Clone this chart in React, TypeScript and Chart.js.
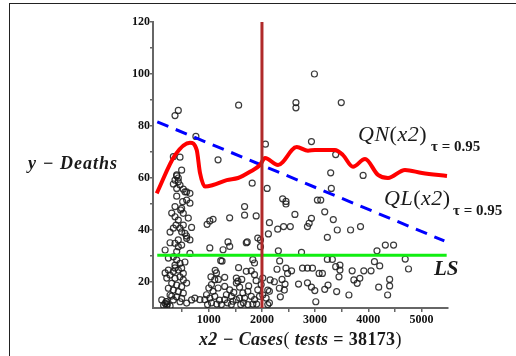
import React, { useEffect, useRef } from "react";
import { Chart, registerables } from "chart.js";

Chart.register(...registerables);

// Scatter observations (cases, deaths)
const scatterX = [
  2987, 2639, 2639, 3492, 1561, 426, 364, 757, 2065, 2931, 3387, 3293, 3903, 2097, 3305, 2389, 2452, 2452, 3043, 3106, 1174, 1816, 489, 426,
  2620, 3181, 3342, 2931, 2888, 2140, 2296, 2407, 2533, 2856, 3417, 3667, 3854, 3230, 2121, 1972, 1972, 4164, 4321, 4476, 2308, 2744, 4695, 4757,
  2333, 2283, 2452, 2482, 2557, 2763, 2856, 2950, 3075, 3137, 3230, 3324, 3387, 3467, 3467, 3449, 3697, 3916, 4052, 4116, 4215, 2153, 2233, 2377,
  2434, 2327, 2346, 2421, 2688, 2856, 2931, 2994, 3013, 3181, 3243, 3405, 3636, 3729, 3841, 3791, 4196, 4402, 4402, 4364, 2140, 2109, 2015,
  1361, 1393, 1268, 1019, 1723, 1921, 1224, 1249, 1828, 1860, 1798, 1705, 1860, 1144, 1299, 1518, 1548, 1518, 1579, 1112, 1050, 1000, 957, 1019,
  1080, 1174, 1112, 925, 976, 1299, 1331, 1393, 1424, 1299, 1237, 1424, 1641, 1673, 1734, 1798, 1860, 1921, 1953, 832, 738, 2078, 2140, 2109,
  1518, 1579, 1454, 1734, 1828, 2015, 1985, 1019, 968, 1080, 1392, 1673, 1673, 1891, 1705,
  458, 396, 364, 426, 333, 458, 396, 520, 583, 645, 508, 645, 471, 520, 364, 364, 426, 383, 333, 458, 520, 551, 489, 583, 645, 676, 271, 364,
  426, 489, 178, 396, 645, 333, 396, 458, 364, 489, 426, 333, 520, 239, 271, 364, 458, 520, 302, 396, 489, 239, 333, 426, 520, 271, 396, 489,
  333, 458, 209, 178, 150, 200, 220, 178, 333, 551, 489, 396,
  396, 583, 302, 614, 271, 583, 426, 239, 551, 364, 583, 209, 302, 583, 676, 209, 115, 271,
  1050, 1150, 1200, 1350, 1600, 1650, 1900, 1120, 1180, 1470, 1750, 1620, 1040, 1560, 1890
];
const scatterY = [
  100, 89, 87, 89, 88, 86, 84, 76, 73, 74, 69, 62, 61, 56, 56, 52, 51, 50, 51.5, 51.5, 67, 58, 63, 60,
  46, 47, 44, 44.5, 42.6, 42.8, 40.3, 41.3, 41.3, 41.3, 40, 40, 41.3, 37.2, 38.5, 36.2, 33.6, 32, 34.2, 34.2, 32, 31.4, 28.8, 25,
  28.1, 24.9, 25.3, 23.3, 24.3, 25.3, 25.3, 25.3, 23.3, 23.3, 28.7, 28.7, 25.9, 24.6, 26.5, 22, 24.3, 24.3, 24.3, 27.8, 26.2, 20.8, 20.1, 21,
  19.2, 17.6, 14.3, 16.9, 19.2, 19.7, 18, 16.7, 12.4, 17.2, 18.8, 16.3, 15, 20.8, 21.4, 19.5, 18, 21, 18.5, 15, 12, 16.9, 15,
  35.4, 33.7, 32.4, 33.1, 35.4, 36.9, 28.2, 28, 28.6, 27.3, 24.3, 24.1, 22.8, 23.5, 21.8, 21.5, 20.3, 19.6, 18, 20.9, 19, 17.7, 15.1, 13.8,
  16.4, 17.7, 14.5, 13.2, 11.3, 18.3, 15.1, 17, 14.5, 13.2, 11.3, 11.3, 15.8, 13.8, 16.4, 14.5, 13.2, 17, 14.5, 13.2, 13.8, 13.8, 16.4, 11.3,
  13.2, 13.8, 12.6, 11.3, 11.5, 21.5, 19, 43.5, 42.2, 44.1, 44.7, 49, 45.7, 45.4, 35.1,
  68, 60.8, 59.2, 58.6, 57.7, 57.3, 56, 55.7, 54.7, 54.1, 50.9, 50.3, 47.7, 46.4, 49, 45.1, 43.8, 41.9, 40.7, 40.7, 41.9, 38.7, 39.3, 36.8, 36.2, 41, 35.1, 34.9,
  33.6, 34.2, 32.3, 31.7, 31, 29.7, 28.5, 27.2, 26.5, 25.3, 24.6, 24, 23.3, 24.6, 22.7, 21.4, 22, 20.8, 19.5, 18.8, 18.2, 17.6, 16.9, 16.3, 15.7, 15, 14.3, 13.7,
  13.1, 12.4, 12.4, 11.8, 11, 12.5, 11.5, 23.5, 68.2, 54.7, 48.3, 61.2,
  53, 51.5, 46.5, 44.6, 39.2, 37.7, 36.2, 29.2, 27.7, 25.4, 19.6, 21.5, 14.6, 11.9, 13.1, 10.8, 13.1, 10.8,
  12, 11.5, 13, 12, 11.3, 12, 11.5, 24.5, 21, 16, 18.5, 21, 22, 25.5, 20.5
];

// Nonparametric quantile curve QN(x2), tau = 0.95
const qnX = [20, 364, 646, 772, 834, 928, 1079, 1337, 1549, 1775, 1963, 2057, 2302, 2654, 2866, 2998, 3374, 3525, 3713, 3939, 4183, 4371, 4691, 5011, 5481];
const qnY = [54.1, 68.8, 73.6, 70.8, 62, 56.7, 57.3, 59.2, 60, 62.4, 65, 67.7, 65, 71.9, 70.5, 70.8, 70.8, 68.8, 64.3, 67.3, 61.2, 60, 63.1, 61.9, 60.8];

// Linear quantile line QL(x2), tau = 0.95
const qlX = [30, 5431];
const qlY = [81.6, 35.8];

// Least squares line LS
const lsX = [30, 5475];
const lsY = [30.3, 30.3];

// Vertical marker
const markerX = [2000, 2000];
const markerY = [10, 120];

const xTickValues = [500, 1000, 1500, 2000, 2500, 3000, 3500, 4000, 4500, 5000];
const yTickValues = [20, 30, 40, 50, 60, 70, 80, 90, 100, 110, 120];
const xLabelStep = 1000;
const yLabelStep = 20;

const toPoints = (xs: number[], ys: number[]) => xs.map((x, i) => ({ x, y: ys[i] }));

const SERIF = '"Liberation Serif", "Times New Roman", serif';
const TXT = "#1a1a1a";

function Label(props: { left: number; baseline: number; size: number; children: any; style?: any }) {
  const { left, baseline, size, children, style } = props;
  return (
    <div
      style={{
        position: "absolute",
        left,
        top: baseline - 0.8375 * size,
        fontFamily: SERIF,
        fontSize: size,
        lineHeight: 1,
        whiteSpace: "nowrap",
        color: TXT,
        ...style,
      }}
    >
      {children}
    </div>
  );
}

export default function App() {
  const canvasRef = useRef<HTMLCanvasElement | null>(null);

  useEffect(() => {
    const canvas = canvasRef.current;
    if (!canvas) return;
    const tickFont = { family: SERIF, size: 12, weight: "bold" as const };
    const chart = new Chart(canvas, {
      type: "scatter",
      data: {
        datasets: [
          {
            label: "marker",
            data: toPoints(markerX, markerY),
            showLine: true,
            borderColor: "#b02a2a",
            borderWidth: 3,
            pointRadius: 0,
            order: 1,
          },
          {
            label: "QN",
            data: toPoints(qnX, qnY),
            showLine: true,
            borderColor: "#ff0000",
            borderWidth: 4,
            pointRadius: 0,
            cubicInterpolationMode: "monotone",
            order: 2,
          },
          {
            label: "QL",
            data: toPoints(qlX, qlY),
            showLine: true,
            borderColor: "#0000ff",
            borderWidth: 3,
            borderDash: [12, 8],
            pointRadius: 0,
            order: 3,
          },
          {
            label: "LS",
            data: toPoints(lsX, lsY),
            showLine: true,
            borderColor: "#11ee11",
            borderWidth: 3,
            pointRadius: 0,
            order: 4,
          },
          {
            label: "data",
            data: toPoints(scatterX, scatterY),
            showLine: false,
            pointRadius: 3,
            pointBorderWidth: 1.2,
            pointBorderColor: "rgba(25,25,25,0.85)",
            pointBackgroundColor: "rgba(0,0,0,0)",
            order: 5,
          },
        ],
      },
      options: {
        responsive: false,
        animation: false,
        devicePixelRatio: 1,
        layout: { padding: { top: 22, right: 68, left: 0, bottom: 0 } },
        plugins: { legend: { display: false }, tooltip: { enabled: false }, title: { display: false } },
        scales: {
          x: {
            type: "linear",
            min: -50,
            max: 5500,
            afterFit: (s: any) => {
              s.height = 48;
            },
            afterBuildTicks: (s: any) => {
              s.ticks = xTickValues.map((v) => ({ value: v }));
            },
            ticks: {
              autoSkip: false,
              maxRotation: 0,
              padding: 1,
              color: "#111",
              font: tickFont,
              callback: (v: any) => (Number(v) % xLabelStep === 0 ? String(v) : ""),
            },
            grid: { drawOnChartArea: false, tickLength: 4, color: "#666", lineWidth: 1.5 },
            border: { color: "#666", width: 2 },
          },
          y: {
            type: "linear",
            min: 10,
            max: 120,
            afterFit: (s: any) => {
              s.width = 153;
            },
            afterBuildTicks: (s: any) => {
              s.ticks = yTickValues.map((v) => ({ value: v }));
            },
            ticks: {
              autoSkip: false,
              padding: 0,
              color: "#111",
              font: tickFont,
              callback: (v: any) => (Number(v) % yLabelStep === 0 ? String(v) : ""),
            },
            grid: { drawOnChartArea: false, tickLength: 3, color: "#666", lineWidth: 1.5 },
            border: { color: "#666", width: 2 },
          },
        },
      } as any,
    });
    return () => chart.destroy();
  }, []);

  return (
    <div style={{ position: "fixed", left: 0, top: 0, width: 516, height: 356, background: "#fff", overflow: "hidden" }}>
      <div
        style={{
          position: "absolute",
          left: 9,
          top: 3,
          width: 600,
          height: 400,
          borderLeft: "1.5px solid #222",
          borderTop: "1.5px solid #222",
        }}
      />
      <canvas ref={canvasRef} width={516} height={356} style={{ position: "absolute", left: 0, top: 0, width: 516, height: 356 }} />

      <Label left={28} baseline={169} size={18} style={{ fontWeight: "bold", fontStyle: "italic", letterSpacing: 1 }}>
        y − Deaths
      </Label>

      <Label left={199} baseline={345} size={18} style={{ fontWeight: "bold", letterSpacing: 0.35 }}>
        <span style={{ fontStyle: "italic" }}>x2 − Cases</span>
        <span style={{ fontWeight: "normal" }}>(</span>
        <span style={{ fontStyle: "italic" }}> tests</span>
        <span> = 38173</span>
        <span style={{ fontWeight: "normal" }}>)</span>
      </Label>

      <Label left={358} baseline={141} size={22} style={{ letterSpacing: 0.5 }}>
        <span style={{ fontStyle: "italic" }}>QN</span>(<span style={{ fontStyle: "italic" }}>x2</span>)
      </Label>
      <Label left={431} baseline={152} size={15} style={{ fontWeight: "bold" }}>
        τ = 0.95
      </Label>

      <Label left={384} baseline={205} size={22} style={{ letterSpacing: 0.5 }}>
        <span style={{ fontStyle: "italic" }}>QL</span>(<span style={{ fontStyle: "italic" }}>x2</span>)
      </Label>
      <Label left={453} baseline={216} size={15} style={{ fontWeight: "bold" }}>
        τ = 0.95
      </Label>

      <Label left={434} baseline={276} size={21} style={{ fontStyle: "italic", fontWeight: "bold" }}>
        LS
      </Label>
    </div>
  );
}
